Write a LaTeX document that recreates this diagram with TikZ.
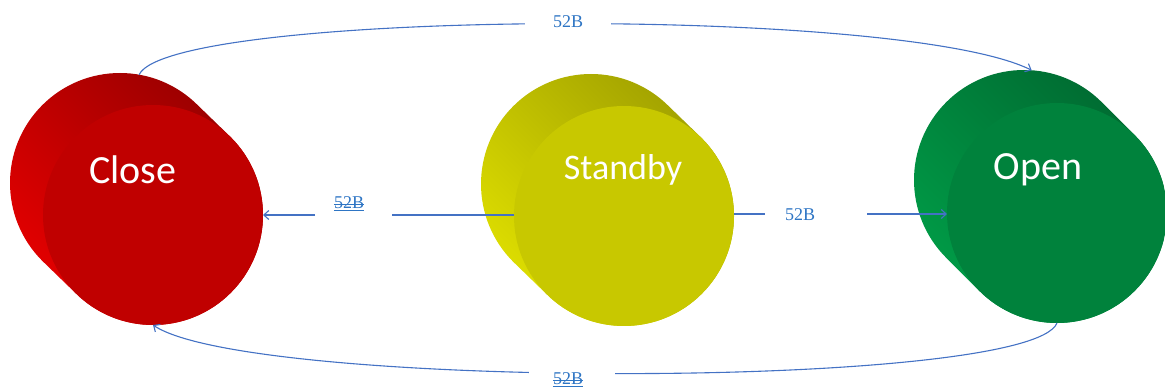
\documentclass[tikz,border=0pt]{standalone}
\usepackage{fontspec}
\setmainfont{Liberation Serif}
\newfontfamily\capfont{Carlito}
\usetikzlibrary{arrows.meta,calc}

\definecolor{linkblue}{RGB}{68,114,196}
\definecolor{labelblue}{RGB}{46,117,196}
\definecolor{redface}{RGB}{192,0,0}
\definecolor{redlight}{RGB}{232,0,0}
\definecolor{reddark}{RGB}{150,0,0}
\definecolor{yelface}{RGB}{200,200,0}
\definecolor{yellight}{RGB}{226,226,0}
\definecolor{yeldark}{RGB}{158,158,0}
\definecolor{grnface}{RGB}{0,130,60}
\definecolor{grnlight}{RGB}{0,158,72}
\definecolor{grndark}{RGB}{0,104,48}

\tikzset{
  x=1pt, y=1pt,
  disc/.style={circle, minimum size=220pt, inner sep=0pt, outer sep=0pt},
  face/.style={disc, fill=#1},
  caption/.style={text=white, anchor=base, font=\capfont\fontsize{40}{40}\selectfont},
  link/.style={draw=linkblue, line width=1.1pt},
  linkto/.style={link, -{Straight Barb[length=5pt,width=9pt]}},
  tag/.style={text=labelblue, font=\fontsize{18}{18}\selectfont, inner sep=0pt},
  gap/.style={tag, fill=white, inner ysep=4pt}
}

% side of a cylinder: back disc joined to front disc
\newcommand{\cylside}[4]{%
  \shade[top color=#4, bottom color=#3, shading angle=-45]
    ($(#1.center)+(45:110)$) arc[start angle=45, end angle=225, radius=110]
    -- ($(#2.center)+(225:110)$) arc[start angle=225, end angle=405, radius=110]
    -- cycle;}

\begin{document}
\begin{tikzpicture}
\useasboundingbox (0,0) rectangle (1165,391);

% back discs (hidden, used as anchors)
\node[disc] (closeback) at (120,208) {};
\node[disc] (standbyback) at (591,207) {};
\node[disc] (openback) at (1024,211) {};
\node[disc] (close) at (153,176) {};
\node[disc] (standby) at (624,175) {};
\node[disc] (open) at (1057,178) {};

% cylinders
\cylside{closeback}{close}{redlight}{reddark}
\node[face=redface] at (close.center) {};
\cylside{standbyback}{standby}{yellight}{yeldark}
\node[face=yelface] at (standby.center) {};
\cylside{openback}{open}{grnlight}{grndark}
\node[face=grnface] at (open.center) {};

% state names
\node[caption] (closetxt) at (133,207) {Close};
\node[caption, font=\capfont\fontsize{36}{36}\selectfont] (standbytxt) at (623,211) {Standby};
\node[caption] (opentxt) at (1038,211) {Open};

% Close -> Open (over the top)
\draw[linkto] (closeback.80) .. controls (170,381) and (900,386) .. (openback.86);
\node[gap, minimum width=86pt] (ltop) at (568,369) {52B};

% Open -> Close (underneath)
\draw[linkto] (open.-90) .. controls (1030,1) and (250,1) .. (close.-90);
\node[gap, minimum width=86pt] (lbot) at (572,12) {\phantom{52B}};
\node[tag] (lbottxt) at (568,12) {52B};
\draw[labelblue, line width=0.8pt] ($(lbottxt.base west)+(0,-1.5)$) -- ($(lbottxt.base east)+(0,-1.5)$);
\draw[labelblue, line width=0.8pt] ($(lbottxt.west)+(0,-1)$) -- ($(lbottxt.east)+(0,-1)$);

% Standby -> Close
\coordinate (g1a) at (315,176);
\coordinate (g1b) at (392,176);
\draw[link] (standby.west |- g1b) -- (g1b);
\draw[linkto] (g1a) -- (close.east |- g1a);
\node[tag] (lleft) at (349,188) {52B};
\draw[labelblue, line width=0.8pt] ($(lleft.base west)+(0,-1.5)$) -- ($(lleft.base east)+(0,-1.5)$);
\draw[labelblue, line width=0.8pt] ($(lleft.west)+(0,-1)$) -- ($(lleft.east)+(0,-1)$);

% Standby -> Open
\coordinate (g2a) at (765,177);
\coordinate (g2b) at (867,177);
\draw[link] (standby.east |- g2a) -- (g2a);
\draw[linkto] (g2b) -- (open.west |- g2b);
\node[tag] (lright) at (800,176) {52B};
\end{tikzpicture}
\end{document}
